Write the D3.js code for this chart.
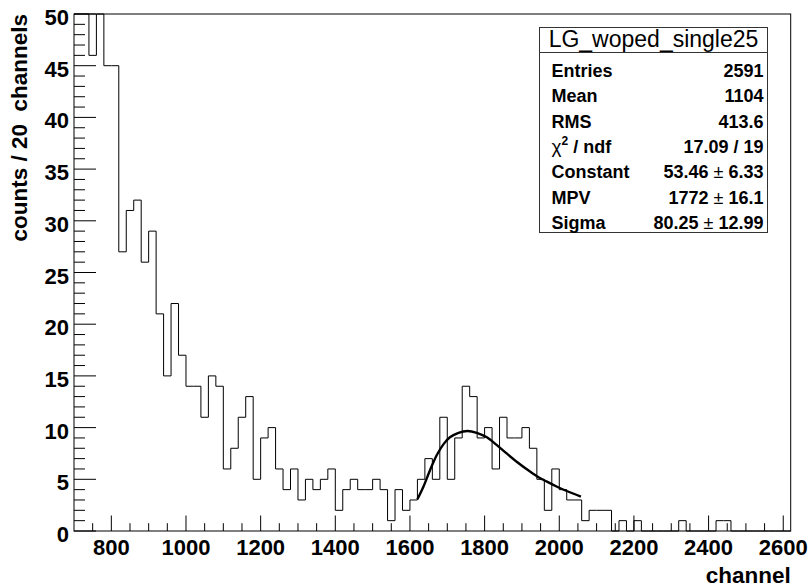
<!DOCTYPE html>
<html>
<head>
<meta charset="utf-8">
<script src="https://cdn.jsdelivr.net/npm/d3@7"></script>
<style>
  html, body { margin: 0; padding: 0; background: #fff; }
  svg { display: block; font-family: "Liberation Sans", Arial, Helvetica, sans-serif; }
</style>
</head>
<body>
<svg id="chart" width="812" height="587"></svg>
<script>
// ---- data ----
const binStart = 700;
const binWidth = 20;
const binCounts = [
  62, 57, 46, 52, 45, 45, 27, 31, 32, 26,   // 700-880
  29, 21, 15, 22, 17, 14, 14, 11, 15, 14,   // 900-1080
  6, 8, 11, 13, 5, 9, 10, 6, 4, 6,          // 1100-1280
  3, 5, 4, 5, 6, 2, 4, 5, 4, 4,             // 1300-1480
  5, 4, 1, 4, 2, 3, 5, 7, 5, 11,            // 1500-1680
  5, 9, 14, 13, 9, 10, 6, 11, 9, 9,         // 1700-1880
  10, 8, 5, 2, 6, 4, 3, 3, 1, 2,            // 1900-2080
  2, 2, 0, 1, 0, 1, 0, 0, 0, 0,             // 2100-2280
  0, 1, 0, 0, 0, 0, 1, 1, 0, 0,             // 2300-2480
  0, 0, 0, 0, 0, 0                          // 2500-2600
];
const fitChannels = [1620, 1636, 1654, 1672, 1690, 1707, 1730, 1754, 1779, 1806, 1833, 1859, 1886, 1913, 1940, 1967, 1994, 2020, 2058];
const fitCounts   = [3.07, 4.28, 5.9, 7.35, 8.4, 9.06, 9.5, 9.67, 9.5, 9.06, 8.3, 7.5, 6.7, 5.97, 5.3, 4.77, 4.28, 3.87, 3.33];
const xTickValues = [800, 1000, 1200, 1400, 1600, 1800, 2000, 2200, 2400, 2600];
const yTickValues = [0, 5, 10, 15, 20, 25, 30, 35, 40, 45, 50];
const xDomain = [700, 2620];
const yDomain = [0, 50];
const statsTitle = "LG_woped_single25";
const statLabels = ["Entries", "Mean", "RMS", "chi2/ndf", "Constant", "MPV", "Sigma"];
const statValues = ["2591", "1104", "413.6", "17.09 / 19", "53.46|6.33", "1772|16.1", "80.25|12.99"];
const xTitle = "channel";
const yTitle = "counts / 20  channels";

// ---- layout ----
const L = 74, R = 790.7, T = 14, B = 531;
const svg = d3.select("#chart");
const x = d3.scaleLinear().domain(xDomain).range([L, R]);
const y = d3.scaleLinear().domain(yDomain).range([B, T]);
const yc = v => y(Math.min(v, yDomain[1]));

// frame
svg.append("rect").attr("x", L).attr("y", T).attr("width", R - L).attr("height", B - T)
  .attr("fill", "#fff").attr("stroke", "#000").attr("stroke-width", 1);

// histogram step outline
let pts = [];
binCounts.forEach((c, i) => {
  const x0 = binStart + i * binWidth, x1 = x0 + binWidth;
  pts.push([x(x0), yc(c)], [x(x1), yc(c)]);
});
pts.push([x(binStart + binCounts.length * binWidth), y(0)]);
svg.append("path").attr("d", d3.line()(pts)).attr("fill", "none")
  .attr("stroke", "#000").attr("stroke-width", 1);

// fit curve
svg.append("path")
  .attr("d", d3.line().x((d, i) => x(fitChannels[i])).y(d => y(d)).curve(d3.curveCatmullRom)(fitCounts))
  .attr("fill", "none").attr("stroke", "#000").attr("stroke-width", 2.4);

// x ticks (inward)
const gx = svg.append("g");
d3.range(750, 2620, 50).forEach(v => {
  const major = xTickValues.includes(v);
  gx.append("line").attr("x1", x(v)).attr("x2", x(v)).attr("y1", B).attr("y2", B - (major ? 15.5 : 7.8))
    .attr("stroke", "#000").attr("stroke-width", 1);
});
xTickValues.forEach(v => {
  gx.append("text").attr("x", x(v)).attr("y", 555).attr("text-anchor", "middle")
    .attr("font-size", 22).attr("font-weight", "bold").text(v);
});
// y ticks (inward)
const gy = svg.append("g");
d3.range(0, 51, 1).forEach(v => {
  const major = yTickValues.includes(v);
  gy.append("line").attr("x1", L).attr("x2", L + (major ? 22 : 11)).attr("y1", y(v)).attr("y2", y(v))
    .attr("stroke", "#000").attr("stroke-width", 1);
});
yTickValues.forEach(v => {
  gy.append("text").attr("x", 69).attr("y", y(v) + 11).attr("text-anchor", "end")
    .attr("font-size", 22).attr("font-weight", "bold").text(v);
});

// axis titles
svg.append("text").attr("x", R).attr("y", 583).attr("text-anchor", "end")
  .attr("font-size", 22.5).attr("font-weight", "bold").text(xTitle);
svg.append("text").attr("transform", `translate(27,${T}) rotate(-90)`).attr("text-anchor", "end")
  .attr("font-size", 22.5).attr("font-weight", "bold").attr("xml:space", "preserve")
  .style("white-space", "pre").text(yTitle);

// stats box
const bx0 = 539.5, bx1 = 767.5, by0 = 27.5, by1 = 232.5, bsep = 52.5;
svg.append("rect").attr("x", bx0).attr("y", by0).attr("width", bx1 - bx0).attr("height", by1 - by0)
  .attr("fill", "#fff").attr("stroke", "#333").attr("stroke-width", 1);
svg.append("line").attr("x1", bx0).attr("x2", bx1).attr("y1", bsep).attr("y2", bsep)
  .attr("stroke", "#333").attr("stroke-width", 1);
svg.append("text").attr("x", (bx0 + bx1) / 2).attr("y", 46.5).attr("text-anchor", "middle")
  .attr("font-size", 23).text(statsTitle);

statLabels.forEach((lab, i) => {
  const by = 76.7 + i * 25.4;
  const t = svg.append("text").attr("x", 551.5).attr("y", by).attr("font-size", 18).attr("font-weight", "bold");
  if (lab === "chi2/ndf") {
    t.append("tspan").attr("font-weight", "normal").attr("font-size", 19).text("χ");
    t.append("tspan").attr("font-size", 12).attr("dy", -8).text("2");
    t.append("tspan").attr("dy", 8).text(" / ndf");
  } else {
    t.text(lab);
  }
  const val = statValues[i];
  const vt = svg.append("text").attr("x", 763.5).attr("y", by).attr("text-anchor", "end")
    .attr("font-size", 18).attr("font-weight", "bold");
  if (val.includes("|")) {
    const [a, b] = val.split("|");
    vt.append("tspan").text(a + " ");
    vt.append("tspan").attr("font-weight", "normal").text("±");
    vt.append("tspan").text(" " + b);
  } else {
    vt.text(val);
  }
});
</script>
</body>
</html>
